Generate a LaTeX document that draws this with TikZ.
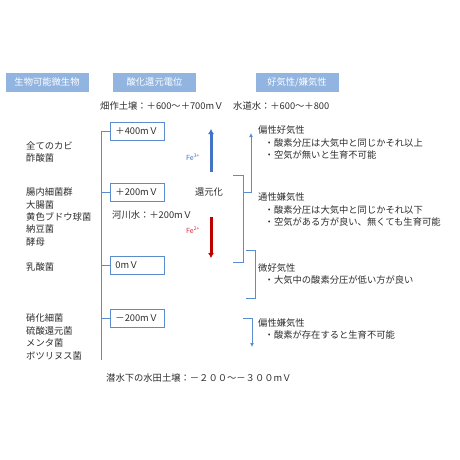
\documentclass[tikz,border=0pt]{standalone}
\usepackage{fontspec}
\setmainfont{Noto Sans CJK JP}
\usetikzlibrary{arrows.meta}
\definecolor{hdrblue}{RGB}{146,180,224}
\definecolor{lineblue}{RGB}{91,140,205}
\definecolor{arrblue}{RGB}{68,114,196}
\definecolor{arrred}{RGB}{192,0,0}
\definecolor{fered}{RGB}{220,40,60}
\definecolor{txtgray}{RGB}{45,45,45}

\begin{document}
\begin{tikzpicture}[
  x=1pt, y=-1pt, >=Latex,
  font=\fontsize{9.3}{12}\selectfont, text=txtgray,
  hdr/.style={fill=hdrblue, text=white, minimum width=83pt, minimum height=19pt, inner sep=0pt},
  vbox/.style={draw=lineblue, line width=0.9pt, text width=44pt, inner xsep=5pt, inner ysep=0pt,
               minimum height=18pt, align=left, anchor=west},
  lbl/.style={anchor=west, inner sep=0pt, align=left},
  grp/.style={lbl, font=\fontsize{9.3}{12.4}\selectfont},
  felbl/.style={font=\fontsize{7}{8}\selectfont, inner sep=0pt},
  line/.style={draw=lineblue, line width=1pt},
  arr/.style={line, -{Latex[length=4pt,width=4pt]}},
  redox/.style={line width=3pt, -{Latex[length=5pt,width=6pt]}}
]
\useasboundingbox (0,0) rectangle (460,460);

% headers
\node[hdr] (hbio) at (47,82) {生物可能微生物};
\node[hdr] (hpot) at (154.5,82) {酸化還元電位};
\node[hdr] (hoxy) at (297,82) {好気性/嫌気性};

\node[lbl] (farm) at (100,106) {畑作土壌：＋600～＋700mＶ};
\node[lbl] (tap) at (233,106) {水道水：＋600～＋800};

% potential boxes
\node[vbox] (v400) at (110,131.5) {＋400mＶ};
\node[vbox] (v200) at (110,192.5) {＋200mＶ};
\node[vbox] (v0) at (110,265) {0mＶ};
\node[vbox] (vm200) at (110,318.5) {－200mＶ};

\node[lbl] (river) at (112,215) {河川水：＋200mＶ};
\node[lbl] (paddy) at (106,378) {潜水下の水田土壌：－２００～－３００mＶ};

% spine
\coordinate (spinetop) at (101,131.5);
\coordinate (spinebot) at (101,360);
\draw[line] (spinetop) -- (spinebot);
\foreach \b in {v400,v200,v0,vm200}
  \draw[line] (\b.west) -- (\b.west -| spinetop);

% microbes
\node[grp] (mold) at (26,152) {全てのカビ\\酢酸菌};
\node[grp] (gut) at (26,217) {腸内細菌群\\大腸菌\\黄色ブドウ球菌\\納豆菌\\酵母};
\node[grp] (lact) at (26,267) {乳酸菌};
\node[grp] (anae) at (26,337) {硝化細菌\\硫酸還元菌\\メンタ菌\\ボツリヌス菌};

% redox arrows
\coordinate (oxlo) at (211,172);
\coordinate (oxhi) at (211,129);
\coordinate (redhi) at (211,217);
\coordinate (redlo) at (211,258);
\draw[redox, arrblue] (oxlo) -- (oxhi);
\draw[redox, arrred] (redhi) -- (redlo);
\node[felbl, text=arrblue] (fe3) at (193,157) {Fe\textsuperscript{3+}};
\node[felbl, text=fered] (fe2) at (193,230) {Fe\textsuperscript{2+}};
\node (reduce) at (209,192) {還元化};

% oxygen groups
\node[grp] (obae) at (258,142.5) {偏性好気性\\\hspace{6.5pt}・酸素分圧は大気中と同じかそれ以上\\\hspace{6.5pt}・空気が無いと生育不可能};
\node[grp] (fana) at (258,209.5) {通性嫌気性\\\hspace{6.5pt}・酸素分圧は大気中と同じかそれ以下\\\hspace{6.5pt}・空気がある方が良い、無くても生育可能};
\node[grp] (micro) at (258,274) {微好気性\\\hspace{6.5pt}・大気中の酸素分圧が低い方が良い};
\node[grp] (oana) at (258,329) {偏性嫌気性\\\hspace{6.5pt}・酸素が存在すると生育不可能};

% brackets
\coordinate (bka1) at (233,175);
\coordinate (bka2) at (243,175);
\coordinate (bka3) at (243,262);
\coordinate (bka4) at (233,262);
\coordinate (bkam) at (243,192);
\coordinate (ara) at (251,133);
\draw[line] (bka1) -- (bka2) -- (bka3) -- (bka4);
\draw[arr] (bkam) -| (ara);

\coordinate (bkb1) at (246,250);
\coordinate (bkb2) at (255,250);
\coordinate (bkb3) at (255,298);
\coordinate (bkb4) at (246,298);
\draw[line] (bkb1) -- (bkb2) -- (bkb3) -- (bkb4);

\coordinate (arc1) at (243,318);
\coordinate (arc2) at (252,347);
\draw[arr] (arc1) -| (arc2);
\end{tikzpicture}
\end{document}
